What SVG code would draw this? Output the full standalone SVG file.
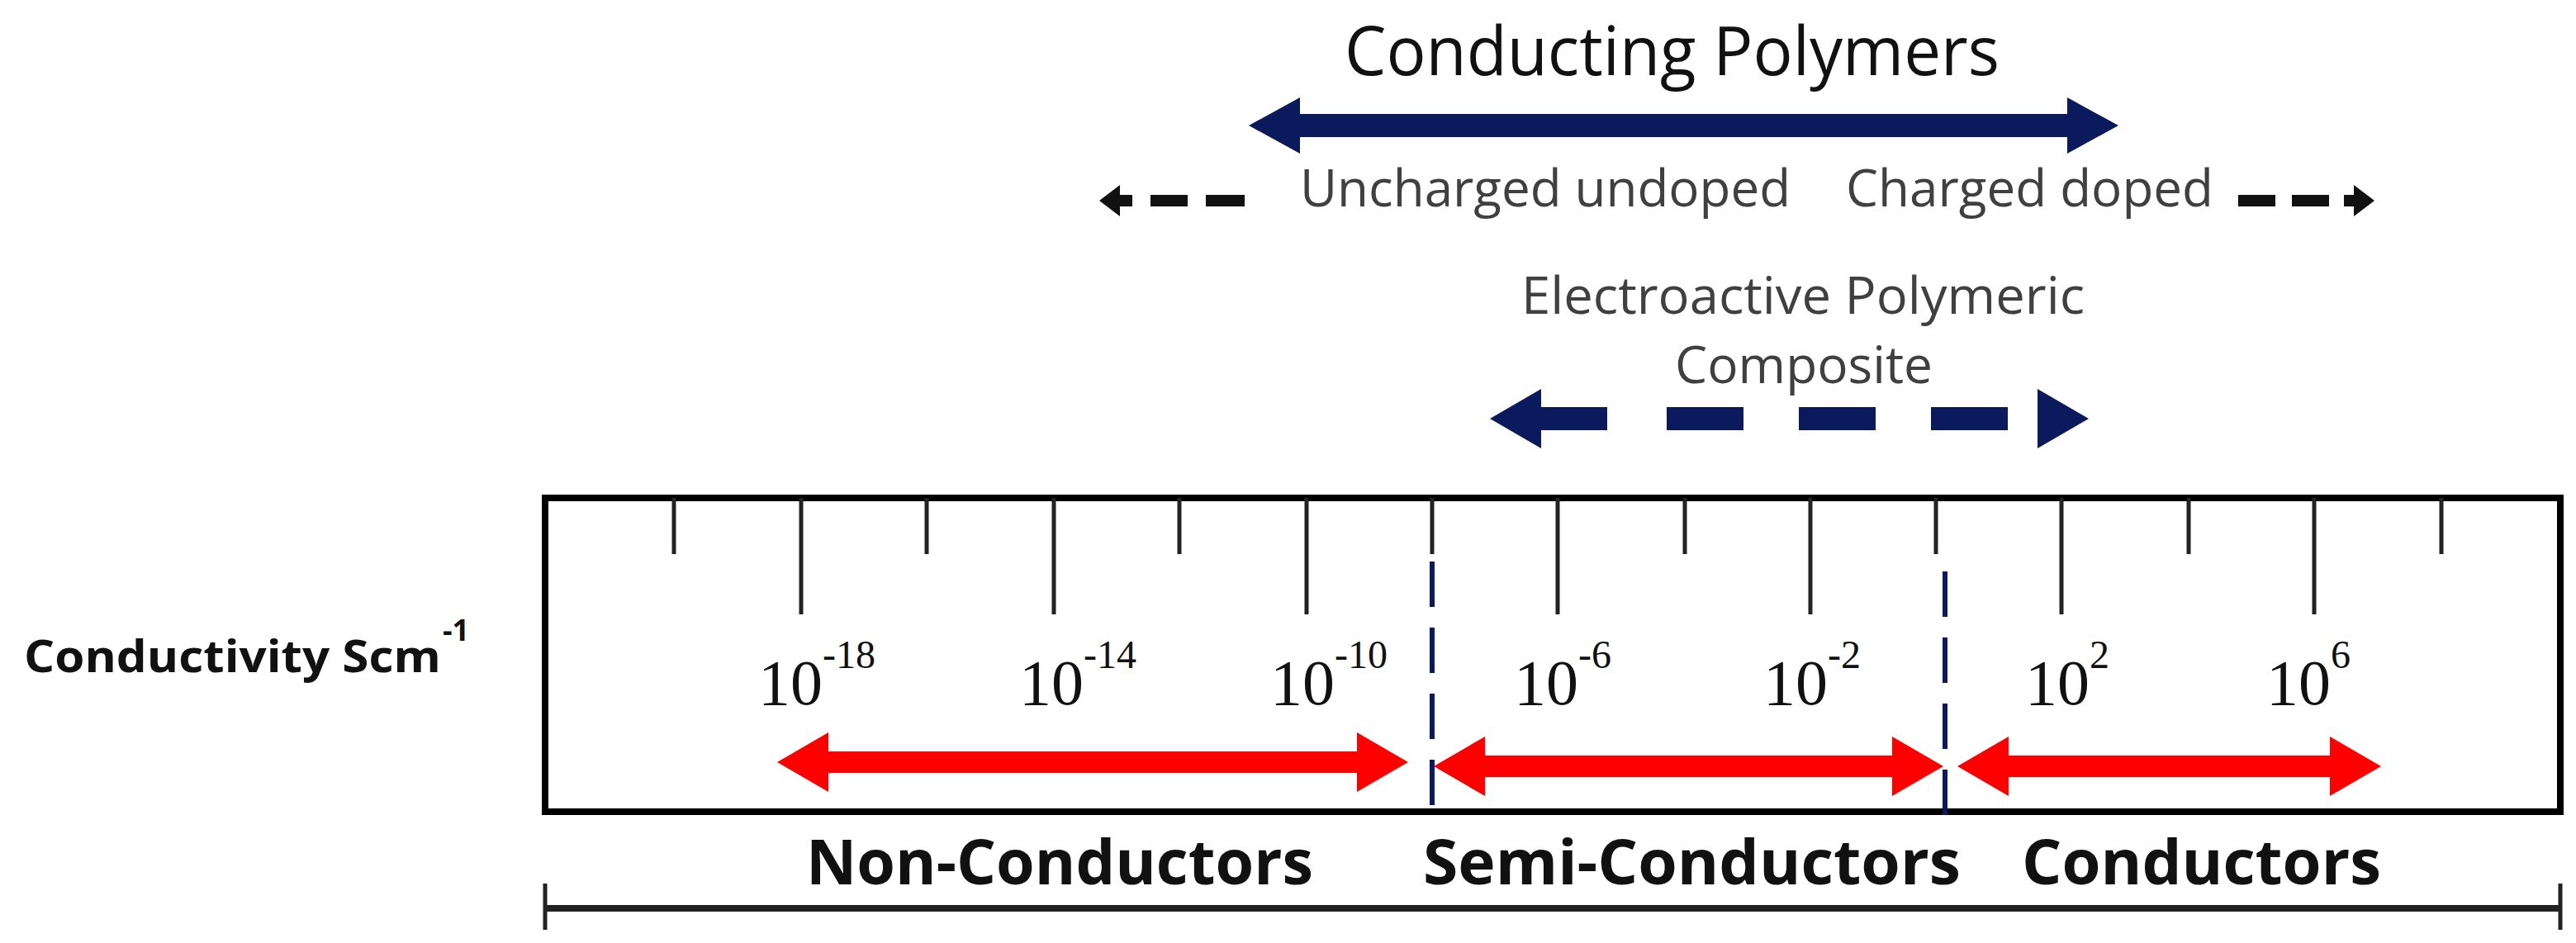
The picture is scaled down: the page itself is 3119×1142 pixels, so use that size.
<svg xmlns="http://www.w3.org/2000/svg" width="3119" height="1142" viewBox="0 0 3119 1142">
<style>
.sans{font-family:"Open Sans","Liberation Sans",sans-serif}
.num{font-family:"Liberation Serif",serif;fill:#111}
.tick{stroke:#222;stroke-width:5}
.red{fill:#ff0000}
.navy{fill:#0a1a5c}
</style>
<rect width="3119" height="1142" fill="#fff"/>
<g id="title">
<text class="sans" x="1628" y="91" font-size="82" textLength="793" lengthAdjust="spacingAndGlyphs" fill="#111">Conducting Polymers</text>
</g>
<g id="uncharged"><text class="sans" x="1574" y="250" font-size="62" textLength="594" lengthAdjust="spacingAndGlyphs" fill="#404040">Uncharged undoped</text></g>
<g id="charged"><text class="sans" x="2235" y="250" font-size="62" textLength="445" lengthAdjust="spacingAndGlyphs" fill="#404040">Charged doped</text></g>
<g id="electroactive">
<text class="sans" x="1842" y="380" font-size="62" textLength="682" lengthAdjust="spacingAndGlyphs" fill="#404040">Electroactive Polymeric</text>
<text class="sans" x="2028" y="464" font-size="62" textLength="312" lengthAdjust="spacingAndGlyphs" fill="#404040">Composite</text>
</g>
<g id="conductivity-label">
<text class="sans" x="29" y="814" font-size="54" font-weight="bold" textLength="505" lengthAdjust="spacingAndGlyphs" fill="#111">Conductivity Scm</text>
<text class="sans" x="536" y="776" font-size="36" font-weight="bold" fill="#111">-1</text>
</g>
<g id="scale">
<rect x="660" y="603" width="2440" height="380" fill="none" stroke="#000" stroke-width="8"/>
<g class="tick">
<line x1="816" y1="603" x2="816" y2="671"/><line x1="970" y1="603" x2="970" y2="744"/>
<line x1="1122" y1="603" x2="1122" y2="671"/><line x1="1276" y1="603" x2="1276" y2="744"/>
<line x1="1428" y1="603" x2="1428" y2="671"/><line x1="1582" y1="603" x2="1582" y2="744"/>
<line x1="1734" y1="603" x2="1734" y2="671"/><line x1="1886" y1="603" x2="1886" y2="744"/>
<line x1="2040" y1="603" x2="2040" y2="671"/><line x1="2192" y1="603" x2="2192" y2="744"/>
<line x1="2344" y1="603" x2="2344" y2="671"/><line x1="2496" y1="603" x2="2496" y2="744"/>
<line x1="2650" y1="603" x2="2650" y2="671"/><line x1="2802" y1="603" x2="2802" y2="744"/>
<line x1="2956" y1="603" x2="2956" y2="671"/>
</g>
<g class="num" font-size="78">
<text x="918" y="853">10<tspan font-size="48" dy="-44">-18</tspan></text>
<text x="1234" y="853">10<tspan font-size="48" dy="-44">-14</tspan></text>
<text x="1538" y="853">10<tspan font-size="48" dy="-44">-10</tspan></text>
<text x="1833" y="853">10<tspan font-size="48" dy="-44">-6</tspan></text>
<text x="2135" y="853">10<tspan font-size="48" dy="-44">-2</tspan></text>
<text x="2452" y="853">10<tspan font-size="48" dy="-44">2</tspan></text>
<text x="2744" y="853">10<tspan font-size="48" dy="-44">6</tspan></text>
</g>
</g>
<g id="regions">
<text class="sans" x="976" y="1071" font-size="76" font-weight="bold" textLength="614" lengthAdjust="spacingAndGlyphs" fill="#111">Non-Conductors</text>
<text class="sans" x="1723" y="1071" font-size="76" font-weight="bold" textLength="651" lengthAdjust="spacingAndGlyphs" fill="#111">Semi-Conductors</text>
<text class="sans" x="2448" y="1071" font-size="76" font-weight="bold" textLength="435" lengthAdjust="spacingAndGlyphs" fill="#111">Conductors</text>
</g>
<g id="connectors">
<polygon class="navy" points="1512,152 1574,118 1574,138 2503,138 2503,118 2565,152 2503,186 2503,166 1574,166 1574,186"/>
<g fill="#111">
<polygon points="1331,243 1356,224 1356,236 1371,236 1371,250 1356,250 1356,262"/>
<rect x="1393" y="236" width="45" height="14"/><rect x="1460" y="236" width="47" height="14"/>
<rect x="2710" y="236" width="45" height="14"/><rect x="2775" y="236" width="45" height="14"/>
<polygon points="2875,243 2850,224 2850,236 2838,236 2838,250 2850,250 2850,262"/>
</g>
<g class="navy">
<polygon points="1804,507 1866,471 1866,493 1946,493 1946,521 1866,521 1866,543"/>
<rect x="2018" y="493" width="93" height="28"/><rect x="2178" y="493" width="93" height="28"/><rect x="2338" y="493" width="93" height="28"/>
<polygon points="2529,507 2467,471 2467,543"/>
</g>
<g stroke="#0a1a5c" stroke-width="6" stroke-dasharray="55 25">
<line x1="1734" y1="680" x2="1734" y2="984"/>
<line x1="2355" y1="692" x2="2355" y2="990"/>
</g>
<g class="red">
<polygon points="941,923 1003,887 1003,910 1643,910 1643,887 1705,923 1643,959 1643,936 1003,936 1003,959"/>
<polygon points="1736,928 1798,892 1798,915 2291,915 2291,892 2353,928 2291,964 2291,941 1798,941 1798,964"/>
<polygon points="2370,928 2432,892 2432,915 2821,915 2821,892 2883,928 2821,964 2821,941 2432,941 2432,964"/>
</g>
<g stroke="#222" stroke-width="8">
<line x1="660" y1="1100" x2="3100" y2="1100"/>
<line x1="660" y1="1070" x2="660" y2="1126" stroke-width="5"/>
<line x1="3100" y1="1070" x2="3100" y2="1126" stroke-width="5"/>
</g>
</g>
</svg>
